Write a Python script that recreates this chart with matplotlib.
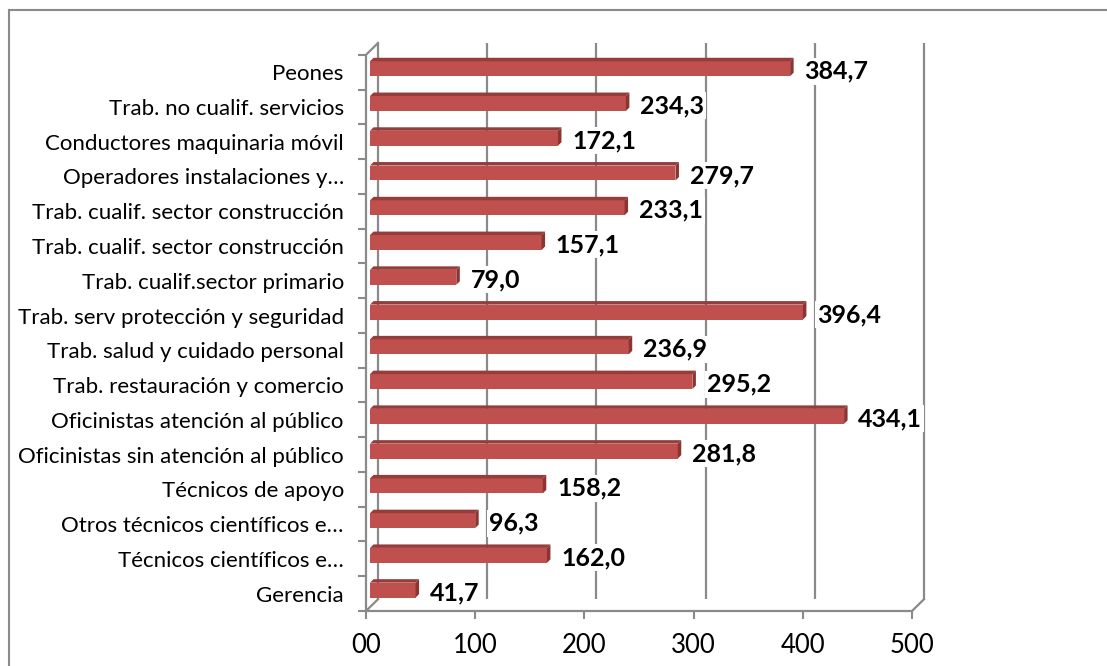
import numpy as np
import matplotlib.pyplot as plt
from matplotlib.patches import Polygon
from matplotlib.lines import Line2D

# categories from bottom (Gerencia) to top (Peones)
categories = [
    "Gerencia",
    "Técnicos científicos e…",
    "Otros técnicos científicos e…",
    "Técnicos de apoyo",
    "Oficinistas sin atención al público",
    "Oficinistas atención al público",
    "Trab. restauración y comercio",
    "Trab. salud y cuidado personal",
    "Trab. serv protección y seguridad",
    "Trab. cualif.sector primario",
    "Trab. cualif. sector construcción",
    "Trab. cualif. sector construcción",
    "Operadores instalaciones y…",
    "Conductores maquinaria móvil",
    "Trab. no cualif. servicios",
    "Peones",
]
values = [41.7, 162.0, 96.3, 158.2, 281.8, 434.1, 295.2, 236.9,
          396.4, 79.0, 157.1, 233.1, 279.7, 172.1, 234.3, 384.7]
xticks = [0, 100, 200, 300, 400, 500]
xtick_labels = ["00", "100", "200", "300", "400", "500"]

plt.rcParams['font.family'] = ['Lato', 'DejaVu Sans']

W, H = 1107, 666
fig = plt.figure(figsize=(W / 100, H / 100), dpi=100)

# axes placed so the front plane of the 3D box maps to the pixel frame
y0, y1 = -0.6, 15.74
ax = fig.add_axes([366 / W, (H - 611) / H, 546 / W, (611 - 43) / H])
ax.set_xlim(0, 500)
ax.set_ylim(y0, y1)
for s in ax.spines.values():
    s.set_visible(False)

grid_c = "#8a8a8a"
dx, dy = 11.0, 0.34        # depth offset of the back wall (data units)
bx, bdx, bdy = 3.7, 3.2, 0.1  # bar start and bar depth
bh = 0.43

# back wall gridlines
for v in xticks:
    ax.plot([v + dx, v + dx], [y0 + dy, 15.4 + dy], color=grid_c, lw=1.6,
            zorder=1, clip_on=False, solid_capstyle="butt")
# left wall front edge and floor
ax.plot([0, 0, dx], [y0, 15.4, 15.4 + dy], color=grid_c, lw=1.6,
        zorder=1, clip_on=False)
ax.plot([dx, 0, 500, 500 + dx], [y0 + dy, y0, y0, y0 + dy], color=grid_c,
        lw=1.6, zorder=1, clip_on=False)

# bars with pseudo 3D faces
ypos = np.arange(len(values))
front = "#c0504d"
top_c = "#963c3a"
side_c = "#8c3432"
ax.barh(ypos, values, height=bh, left=bx, color=front, zorder=3)
for y, v in zip(ypos, values):
    t = y + bh / 2
    b = y - bh / 2
    ax.add_patch(Polygon([(bx, t), (bx + v, t), (bx + v + bdx, t + bdy),
                          (bx + bdx, t + bdy)], closed=True, color=top_c,
                         zorder=3, lw=0))
    ax.add_patch(Polygon([(bx + v, b), (bx + v + bdx, b + bdy),
                          (bx + v + bdx, t + bdy), (bx + v, t)], closed=True,
                         color=side_c, zorder=3, lw=0))
    ax.text(bx + v + 13, y - 0.07, f"{v:.1f}".replace(".", ","),
            fontsize=18, fontweight="bold", ha="left", va="center",
            zorder=4, bbox=dict(facecolor="white", edgecolor="none", pad=1.5))

# category axis
ax.set_yticks(ypos - 0.1, categories)
ax.set_yticks(np.arange(-0.6, 15.5, 1.0), minor=True)
ax.tick_params(axis="y", which="major", length=0, pad=16, labelsize=16)
ax.tick_params(axis="y", which="minor", length=6, width=1.5, color=grid_c,
               direction="out")

# value axis
ax.set_xticks(xticks, xtick_labels)
ax.tick_params(axis="x", length=6, width=1.5, color=grid_c, direction="out",
               pad=10, labelsize=18.5)

# chart area border
fig.add_artist(Line2D([9 / W, 1.0], [1 - 10 / H, 1 - 10 / H],
                      transform=fig.transFigure, color=grid_c, lw=1.5))
fig.add_artist(Line2D([9 / W, 9 / W], [1 - 10 / H, 0.0],
                      transform=fig.transFigure, color=grid_c, lw=1.5))

fig.savefig("out.png", dpi=100)
